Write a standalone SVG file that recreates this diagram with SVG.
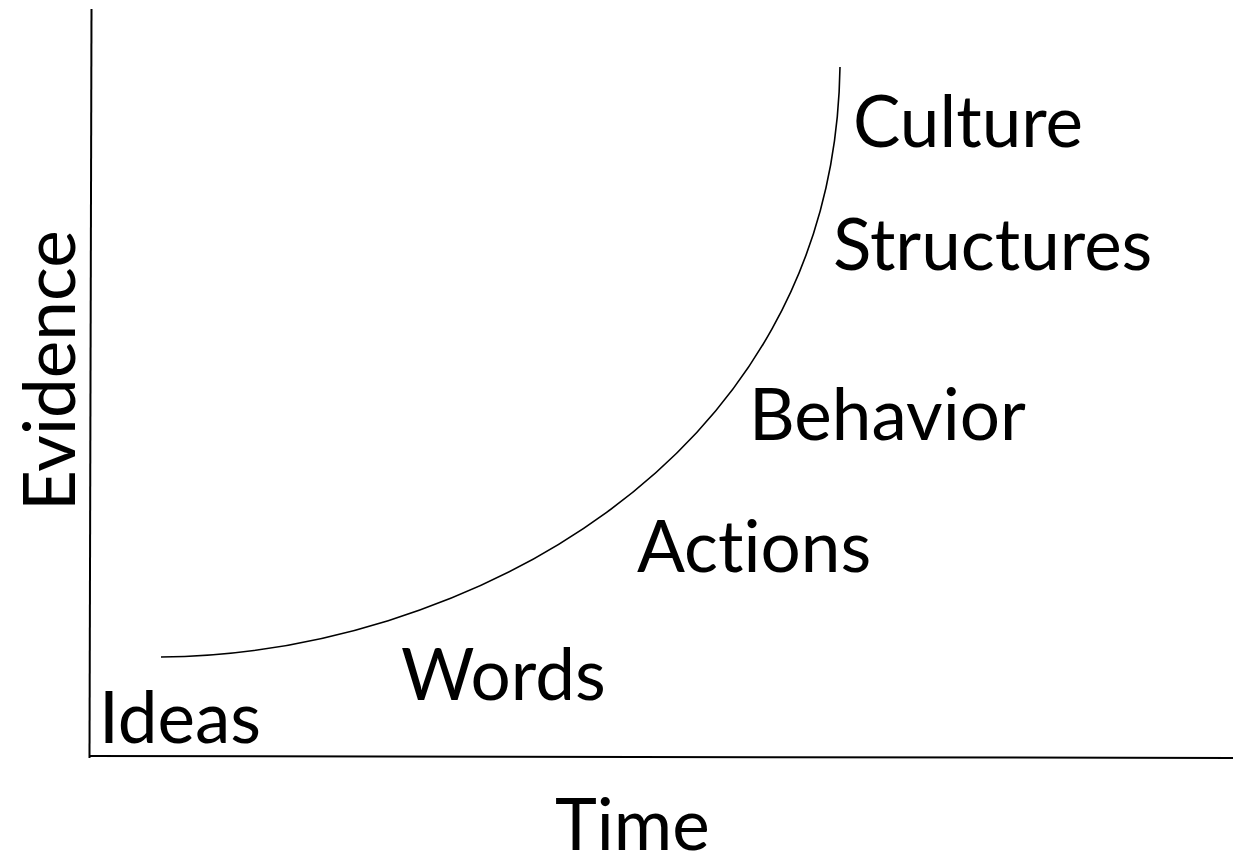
<svg xmlns="http://www.w3.org/2000/svg" width="1233" height="861" viewBox="0 0 1233 861">
  <style>
    .lbl { font-family: Lato, "Open Sans", sans-serif; font-size: 71px; fill: #000; font-variant-ligatures: none; font-feature-settings: "liga" 0, "clig" 0; }
    .axis { stroke: #000; stroke-width: 2; fill: none; }
    .curve { stroke: #000; stroke-width: 1.6; fill: none; }
  </style>
  <rect width="1233" height="861" fill="#fff"/>

  <!-- axes -->
  <g id="axes">
    <line class="axis" x1="91.5" y1="9" x2="89.5" y2="758"/>
    <line class="axis" x1="90" y1="756" x2="1233" y2="758"/>
  </g>

  <!-- growth curve -->
  <g id="connectors">
    <path class="curve" d="M161,657 C450,655 834,470 840,67"/>
  </g>

  <!-- stage labels -->
  <g id="ideas"><text class="lbl" x="99" y="743">Ideas</text></g>
  <g id="words"><text class="lbl" x="401" y="700">Words</text></g>
  <g id="actions"><text class="lbl" x="637" y="572">Actions</text></g>
  <g id="behavior"><text class="lbl" x="749" y="440">Behavior</text></g>
  <g id="structures"><text class="lbl" x="833" y="270">Structures</text></g>
  <g id="culture"><text class="lbl" x="853" y="147">Culture</text></g>

  <!-- axis titles -->
  <g id="time"><text class="lbl" x="555" y="850">Time</text></g>
  <g id="evidence"><text class="lbl" transform="translate(75,511) rotate(-90)">Evidence</text></g>
</svg>
